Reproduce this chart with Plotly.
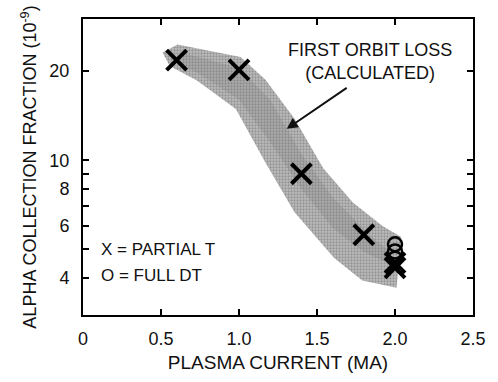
import plotly.graph_objects as go

# Measured points
partial_t_x = [0.6, 1.0, 1.4, 1.8, 2.0, 2.0]
partial_t_y = [21.8, 20.2, 9.0, 5.6, 4.5, 4.33]
full_dt_x = [2.0, 2.0, 2.0]
full_dt_y = [5.2, 4.92, 4.65]

# Calculated first orbit loss band (outline: upper edge then lower edge back)
band_x = [0.51, 0.606, 1.01, 1.17, 1.356, 1.54, 1.73, 1.92, 2.04,
          2.01, 1.79, 1.61, 1.356, 1.17, 0.98, 0.73, 0.556]
band_y = [23.1, 24.6, 22.3, 18.7, 13.8, 9.4, 7.2, 6.0, 5.5,
          3.71, 3.92, 4.67, 6.67, 9.8, 14.9, 18.6, 20.8]
core_x = [0.65, 1.0, 1.2, 1.4, 1.6, 1.85, 1.95,
          1.95, 1.8, 1.6, 1.4, 1.2, 1.0, 0.75, 0.62]
core_y = [23.0, 20.5, 16.0, 10.5, 7.5, 5.5, 5.0,
          4.5, 4.9, 5.9, 8.0, 11.5, 16.0, 19.5, 21.0]

y_tickvals = [4, 5, 6, 7, 8, 9, 10, 20]
y_ticktext = ["4", "", "6", "", "8", "", "10", "20"]
x_tickvals = [0, 0.5, 1.0, 1.5, 2.0, 2.5]
x_ticktext = ["0", "0.5", "1.0", "1.5", "2.0", "2.5"]

FONT = "Arial, Liberation Sans, sans-serif"
INK = "#111"

fig = go.Figure()
fig.add_trace(go.Scatter(x=band_x, y=band_y, fill="toself", mode="none",
                         fillcolor="#b4b4b4",
                         fillpattern=dict(shape=".", fgcolor="#6a6a6a", bgcolor="#bdbdbd",
                                          size=3, solidity=0.45),
                         hoverinfo="skip"))
fig.add_trace(go.Scatter(x=core_x, y=core_y, fill="toself", mode="none",
                         fillcolor="rgba(100,100,100,0.18)", hoverinfo="skip"))
fig.add_trace(go.Scatter(x=partial_t_x, y=partial_t_y, mode="markers",
                         marker=dict(symbol="x-thin", size=20, color="black",
                                     line=dict(width=4, color="black"))))
fig.add_trace(go.Scatter(x=full_dt_x, y=full_dt_y, mode="markers",
                         marker=dict(symbol="circle-open", size=14, color="black",
                                     line=dict(width=2.5, color="black"))))

fig.add_annotation(x=1.84, y=1.335, xref="x", yref="y", yanchor="middle",
                   text="FIRST ORBIT LOSS<br>(CALCULATED)", showarrow=False,
                   font=dict(family=FONT, size=18, color=INK), align="center")
fig.add_annotation(x=1.306, y=1.106, xref="x", yref="y",
                   ax=1.70, ay=1.248, axref="x", ayref="y",
                   text="", showarrow=True, arrowhead=2, arrowsize=1.1,
                   arrowwidth=2, arrowcolor=INK)
fig.add_annotation(x=0.1, y=0.698, xref="x", yref="y", xanchor="left",
                   text="X = PARTIAL T", showarrow=False, align="left",
                   font=dict(family=FONT, size=17, color=INK))
fig.add_annotation(x=0.1, y=0.612, xref="x", yref="y", xanchor="left",
                   text="O = FULL DT", showarrow=False, align="left",
                   font=dict(family=FONT, size=17, color=INK))

axis_common = dict(showline=True, linecolor="black", linewidth=2, mirror="ticks",
                   ticks="inside", tickcolor="black", tickwidth=1.5, ticklen=6,
                   showgrid=False, zeroline=False,
                   tickfont=dict(family=FONT, size=18, color=INK))

fig.update_xaxes(range=[0, 2.5], tickvals=x_tickvals, ticktext=x_ticktext,
                 title=dict(text="PLASMA CURRENT (MA)", standoff=8,
                            font=dict(family=FONT, size=19, color=INK)),
                 ticklabelstandoff=6, **axis_common)
fig.update_yaxes(type="log", range=[0.4771, 1.4771], tickvals=y_tickvals,
                 ticktext=y_ticktext,
                 title=dict(text="ALPHA COLLECTION FRACTION (10<sup>-9</sup>)", standoff=8,
                            font=dict(family=FONT, size=18, color=INK)),
                 ticklabelstandoff=8, **axis_common)

fig.update_layout(width=498, height=382, showlegend=False,
                  margin=dict(l=83, r=15, t=19, b=65),
                  plot_bgcolor="white", paper_bgcolor="white")

fig.write_html("out.html")
